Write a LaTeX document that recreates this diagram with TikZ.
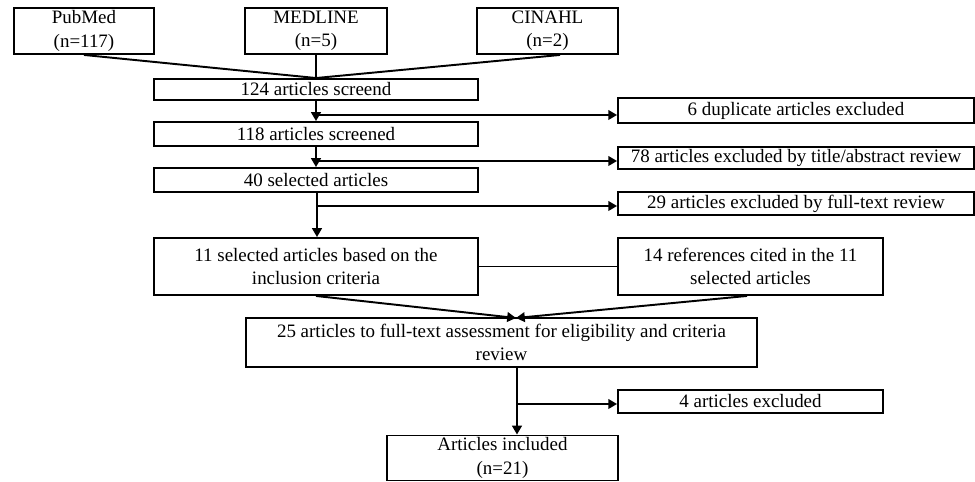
\documentclass[tikz,border=0pt]{standalone}
\usepackage{fontspec}
\setmainfont{Liberation Serif}
\usetikzlibrary{arrows.meta}

\begin{document}
\begin{tikzpicture}[
  x=0.02cm, y=-0.02cm,
  box/.style={rectangle, draw, line width=1.1pt, inner sep=0pt, align=center,
    font=\fontsize{10.8}{13.2}\selectfont},
  arr/.style={-{Triangle[length=5pt,width=5.5pt]}, line width=1.1pt},
  link/.style={line width=1.1pt},
]
\useasboundingbox (0,0) rectangle (975,482);

% Databases
\node[box, minimum width=2.8cm, minimum height=0.92cm] (pubmed) at (84,31) {PubMed\\(n=117)};
\node[box, minimum width=2.84cm, minimum height=0.92cm] (medline) at (316,31) {MEDLINE\\(n=5)};
\node[box, minimum width=2.82cm, minimum height=0.92cm] (cinahl) at (547.5,31) {CINAHL\\(n=2)};

% Main column
\node[box, minimum width=6.48cm, minimum height=0.42cm] (scr124) at (316,89.5) {124 articles screend};
\node[box, minimum width=6.48cm, minimum height=0.48cm] (scr118) at (316,134) {118 articles screened};
\node[box, minimum width=6.48cm, minimum height=0.48cm] (sel40) at (316,180) {40 selected articles};
\node[box, minimum width=6.48cm, minimum height=1.14cm] (sel11) at (316,266.5) {11 selected articles based on the\\inclusion criteria};
\node[box, minimum width=10.22cm, minimum height=0.98cm] (full25) at (501.5,342.5) {25 articles to full-text assessment for eligibility and criteria\\review};
\node[box, minimum width=4.62cm, minimum height=0.9cm] (incl) at (502.5,458) {Articles included\\(n=21)};

% Exclusions
\node[box, minimum width=7.12cm, minimum height=0.5cm] (dup) at (796,110.5) {6 duplicate articles excluded};
\node[box, minimum width=7.12cm, minimum height=0.44cm] (ex78) at (796,158) {78 articles excluded by title/abstract review};
\node[box, minimum width=7.12cm, minimum height=0.46cm] (ex29) at (796,203.5) {29 articles excluded by full-text review};
\node[box, minimum width=5.3cm, minimum height=1.14cm] (ref14) at (750.5,266.5) {14 references cited in the 11\\selected articles};
\node[box, minimum width=5.3cm, minimum height=0.46cm] (ex4) at (750.5,401.5) {4 articles excluded};

% Junctions
\coordinate (j1) at (316,115);
\coordinate (j2) at (316,161);
\coordinate (j3) at (317,206);
\coordinate (j4) at (517,404);
\coordinate (meet) at (516,318);

% Merging databases
\draw[link] (pubmed.south) -- (scr124.north);
\draw[link] (medline.south) -- (scr124.north);
\draw[link] ([xshift=0.25cm]cinahl.south) -- (scr124.north);

% Flow
\draw[arr] (scr124) -- (scr118);
\draw[arr] (j1) -- (j1 -| dup.west);
\draw[arr] (scr118) -- (sel40);
\draw[arr] (j2) -- (j2 -| ex78.west);
\draw[arr] (j3 |- sel40.south) -- (j3 |- sel11.north);
\draw[arr] (j3) -- (j3 -| ex29.west);
\draw[link] (sel11.east) -- (ref14.west);
\draw[arr] (sel11.south) -- (meet);
\draw[arr] ([xshift=-0.07cm]ref14.south) -- (meet);
\draw[arr] (j4 |- full25.south) -- (j4 |- incl.north);
\draw[arr] (j4) -- (j4 -| ex4.west);
\end{tikzpicture}
\end{document}
